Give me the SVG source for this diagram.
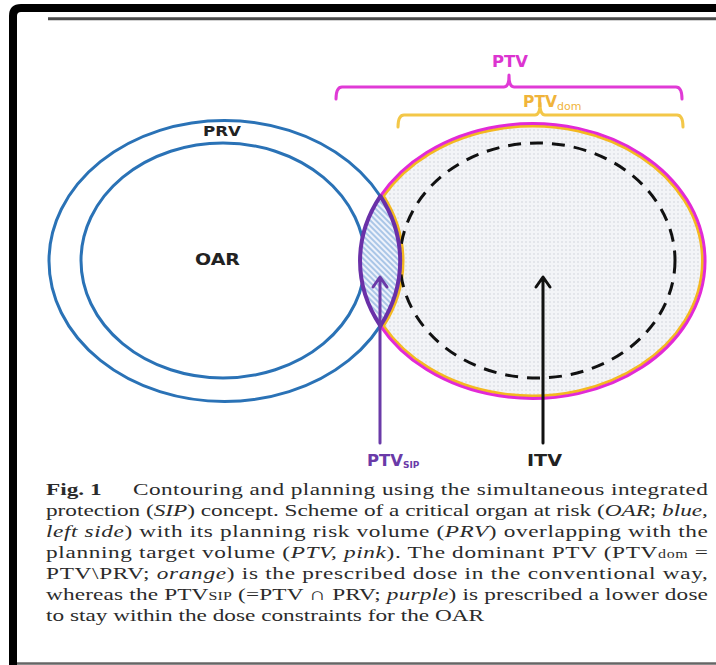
<svg xmlns="http://www.w3.org/2000/svg" width="716" height="665" viewBox="0 0 716 665">
  <style>
    .lbl { font-family: "DejaVu Sans", "Liberation Sans", sans-serif; font-weight: 700; }
    .cap { font-family: "Liberation Serif", "Times New Roman", serif; font-size: 17.5px; fill: #2b2b2b; }
    .it { font-style: italic; }
    .blue { fill: none; stroke: #2a72b6; stroke-width: 3; }
  </style>
  <defs>
    <pattern id="dots" width="4" height="4" patternUnits="userSpaceOnUse">
      <rect width="4" height="4" fill="#f3f4f7"/>
      <circle cx="2" cy="2" r="0.7" fill="#c8ccd5"/>
    </pattern>
    <pattern id="hatch" width="4" height="4" patternUnits="userSpaceOnUse" patternTransform="rotate(45)">
      <rect width="4" height="4" fill="#eef2fb"/>
      <line x1="0" y1="2" x2="4" y2="2" stroke="#8db4df" stroke-width="1.4"/>
    </pattern>
  </defs>

  <rect width="716" height="665" fill="#ffffff"/>

  <!-- page frame -->
  <path d="M13 665 V16 Q13 8 21 8 H716" fill="none" stroke="#000" stroke-width="8"/>
  <line x1="48" y1="18.8" x2="716" y2="18.8" stroke="#4a4a4a" stroke-width="3"/>
  <line x1="17" y1="663.5" x2="716" y2="663.5" stroke="#666" stroke-width="2.5"/>

  <!-- organ at risk and its planning risk volume -->
  <g id="prv">
    <ellipse class="blue" cx="224.5" cy="261" rx="175.5" ry="140.5"/>
    <text class="lbl" x="203" y="136" font-size="14" fill="#222" textLength="38" lengthAdjust="spacingAndGlyphs">PRV</text>
  </g>
  <g id="oar">
    <ellipse class="blue" cx="223" cy="260.5" rx="142" ry="117.5"/>
    <text class="lbl" x="195" y="265" font-size="15" fill="#222" textLength="45" lengthAdjust="spacingAndGlyphs">OAR</text>
  </g>

  <!-- dominant PTV region (PTV minus PRV) -->
  <g id="ptv-dom">
    <path d="M383.5 196 A170 135 0 1 1 383.5 326 A178.5 143 0 0 0 383.5 196 Z" fill="url(#dots)" stroke="#f4b820" stroke-width="3"/>
    <path d="M380.4 196.2 A172.5 137.5 0 1 1 380.4 325.8" fill="none" stroke="#e22ad6" stroke-width="3"/>
  </g>

  <!-- internal target volume -->
  <g id="itv">
    <ellipse cx="537.5" cy="260.5" rx="137.5" ry="117.5" fill="none" stroke="#111" stroke-width="3" stroke-dasharray="13 9"/>
  </g>

  <!-- overlap PTV ∩ PRV -->
  <g id="ptv-sip">
    <path d="M380.4 196.2 A175.5 140.5 0 0 1 380.4 325.8 A172.5 137.5 0 0 1 380.4 196.2 Z" fill="url(#hatch)" stroke="#6a30a8" stroke-width="4" stroke-linejoin="round"/>
  </g>

  <!-- brackets and pointers -->
  <g id="connectors" fill="none" stroke-linecap="round" stroke-linejoin="round">
    <path d="M336 99 Q336 87 342 87 H504 Q509 87 509 75 Q509 87 514 87 H676 Q682 87 682 99" stroke="#e03ad6" stroke-width="3"/>
    <path d="M398 127 Q398 115 404 115 H535 Q540 115 540 103 Q540 115 545 115 H677 Q683 115 683 127" stroke="#f3c748" stroke-width="3"/>
    <path d="M380 443 V278 M373 287 L380 277 L387 287" stroke="#6a3aa8" stroke-width="3"/>
    <path d="M543 443 V278 M536 287 L543 277 L550 287" stroke="#111" stroke-width="3"/>
  </g>

  <!-- labels -->
  <g id="label-ptv">
    <text class="lbl" x="492" y="67" font-size="15" fill="#dc34d0" textLength="36" lengthAdjust="spacingAndGlyphs">PTV</text>
  </g>
  <g id="label-ptvdom">
    <text class="lbl" x="523" y="107" font-size="15" fill="#f0b43a"><tspan textLength="34" lengthAdjust="spacingAndGlyphs">PTV</tspan><tspan font-size="11" font-weight="400" dy="3">dom</tspan></text>
  </g>
  <g id="label-ptvsip">
    <text class="lbl" x="367" y="466" font-size="15" fill="#6a3aa8"><tspan textLength="36" lengthAdjust="spacingAndGlyphs">PTV</tspan><tspan font-size="9" dy="2">SIP</tspan></text>
  </g>
  <g id="label-itv">
    <text class="lbl" x="527" y="466" font-size="15" fill="#222" textLength="35" lengthAdjust="spacingAndGlyphs">ITV</text>
  </g>

  <!-- figure caption -->
  <g id="caption" transform="translate(46 0) scale(1.33 1)">
    <text class="cap" x="0" y="495" font-weight="700">Fig. 1</text>
    <text class="cap" x="65.4" y="495" textLength="432.3" lengthAdjust="spacing">Contouring and planning using the simultaneous integrated</text>
    <text class="cap" x="0" y="516" textLength="497.7" lengthAdjust="spacing">protection (<tspan class="it">SIP</tspan>) concept. Scheme of a critical organ at risk (<tspan class="it">OAR</tspan>; <tspan class="it">blue,</tspan></text>
    <text class="cap" x="0" y="537" textLength="497.7" lengthAdjust="spacing"><tspan class="it">left side</tspan>) with its planning risk volume (<tspan class="it">PRV</tspan>) overlapping with the</text>
    <text class="cap" x="0" y="558" textLength="497.7" lengthAdjust="spacing">planning target volume (<tspan class="it">PTV, pink</tspan>).  The dominant PTV (PTV<tspan font-size="12">dom</tspan> =</text>
    <text class="cap" x="0" y="579" textLength="497.7" lengthAdjust="spacing">PTV\PRV; <tspan class="it">orange</tspan>) is the prescribed dose in the conventional way,</text>
    <text class="cap" x="0" y="600" textLength="497.7" lengthAdjust="spacing">whereas the PTV<tspan font-size="12">SIP</tspan> (=PTV ∩ PRV; <tspan class="it">purple</tspan>) is prescribed a lower dose</text>
    <text class="cap" x="0" y="621">to stay within the dose constraints for the OAR</text>
  </g>
</svg>
